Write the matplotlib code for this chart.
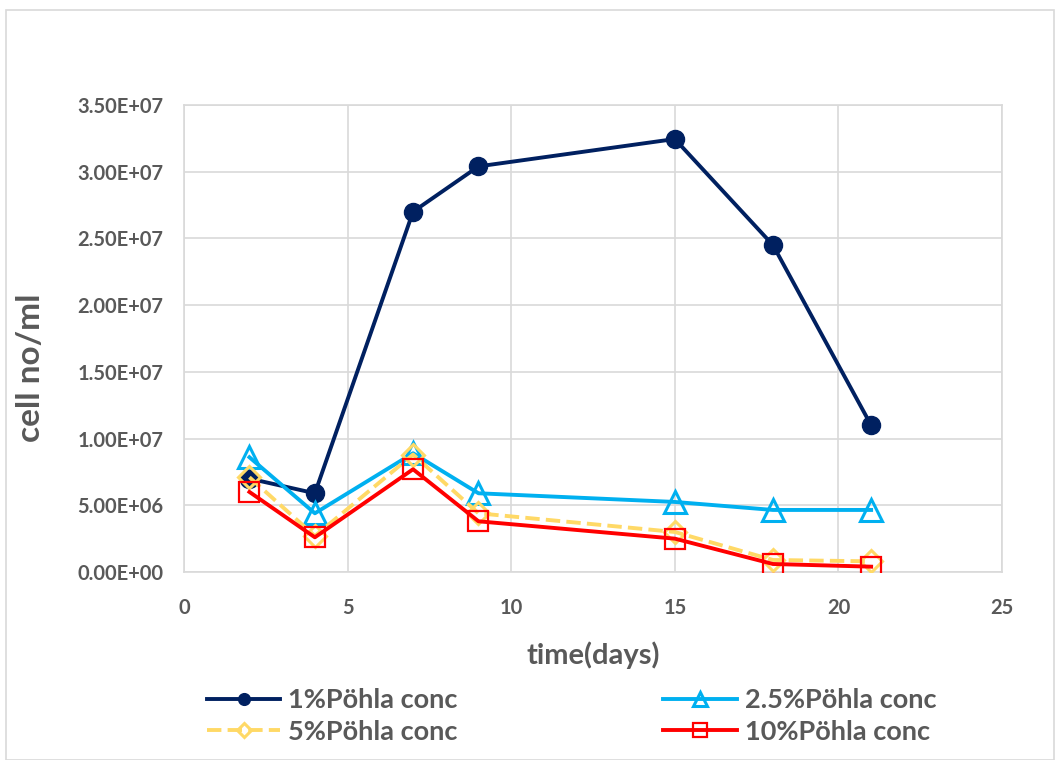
import matplotlib.pyplot as plt
from matplotlib.patches import Rectangle

plt.rcParams['font.family'] = ['Lato', 'DejaVu Sans']

days = [2, 4, 7, 9, 15, 18, 21]
c1 = [7.0e6, 5.9e6, 2.70e7, 3.04e7, 3.245e7, 2.45e7, 1.10e7]
c25 = [8.6e6, 4.4e6, 8.9e6, 5.9e6, 5.25e6, 4.65e6, 4.65e6]
c5 = [7.1e6, 2.7e6, 8.8e6, 4.4e6, 3.0e6, 0.9e6, 0.8e6]
c10 = [6.0e6, 2.6e6, 7.7e6, 3.8e6, 2.5e6, 0.6e6, 0.4e6]
yticks = [0, 5e6, 1e7, 1.5e7, 2e7, 2.5e7, 3e7, 3.5e7]
ytick_labels = ['0.00E+00', '5.00E+06', '1.00E+07', '1.50E+07', '2.00E+07',
                '2.50E+07', '3.00E+07', '3.50E+07']

txt = '#595959'
fig = plt.figure(figsize=(10.55, 7.6), dpi=100)
# chart frame
fig.patches.append(Rectangle((6/1055, 0), 1 - 7/1055, 1 - 10/760, transform=fig.transFigure,
                             fill=False, edgecolor='#D9D9D9', linewidth=1.2))
ax = fig.add_axes([184/1055, 188/760, 818/1055, 467/760])

h1, = ax.plot(days, c1, '-o', color='#002060', lw=2.8, ms=13, label='1%Pöhla conc', zorder=3)
h25, = ax.plot(days, c25, '-^', color='#00B0F0', lw=2.8, ms=16, mfc='none', mew=2.2,
               label='2.5%Pöhla conc', zorder=4)
h5, = ax.plot(days, c5, '--D', color='#FFD966', lw=2.8, ms=11, mfc='none', mew=2.2,
              label='5%Pöhla conc', zorder=5)
h10, = ax.plot(days, c10, '-s', color='#FF0000', lw=2.8, ms=15, mfc='none', mew=1.6,
               label='10%Pöhla conc', zorder=6)

ax.set_xlim(0, 25)
ax.set_ylim(0, 3.5e7)
ax.set_xticks([0, 5, 10, 15, 20, 25])
ax.set_yticks(yticks)
ax.set_yticklabels(ytick_labels)
ax.grid(True, color='#D9D9D9', lw=1.2)
ax.set_axisbelow(True)
for s in ax.spines.values():
    s.set_color('#D9D9D9')
    s.set_linewidth(1.2)
ax.tick_params(length=0, labelsize=14.5, labelcolor=txt)
ax.tick_params(axis='y', pad=15)
ax.tick_params(axis='x', pad=19)
for lab in ax.get_xticklabels() + ax.get_yticklabels():
    lab.set_fontweight('bold')

ax.set_xlabel('time(days)', fontsize=21, fontweight='bold', color=txt)
ax.xaxis.set_label_coords(0.5, -0.148)
ax.set_ylabel('cell no/ml', fontsize=24, fontweight='bold', color=txt)
ax.yaxis.set_label_coords(-0.17, 0.437)

# row-major order: 1% | 2.5% / 5% | 10%
leg = fig.legend([h1, h5, h25, h10], [h.get_label() for h in [h1, h5, h25, h10]],
                 loc='upper left', bbox_to_anchor=(207/1055, 1 - 688/760), ncol=2,
                 frameon=False, prop={'size': 19.5, 'weight': 'bold'}, columnspacing=7.6,
                 handlelength=2.7, handletextpad=0.3, labelspacing=0.28, markerscale=0.65,
                 borderpad=0, borderaxespad=0)
for t in leg.get_texts():
    t.set_color(txt)

fig.savefig('out.png', dpi=100)
